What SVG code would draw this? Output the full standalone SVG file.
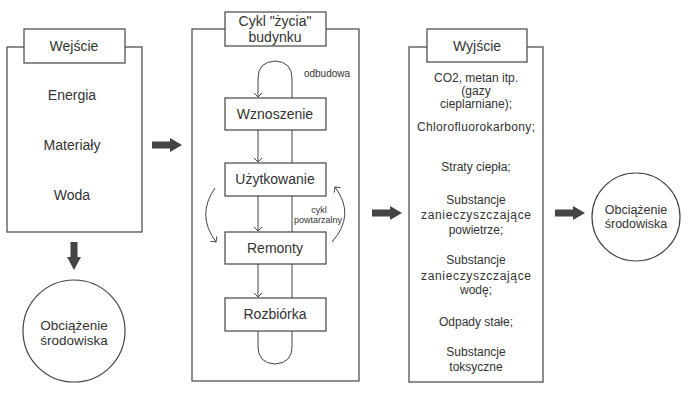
<svg xmlns="http://www.w3.org/2000/svg" width="700" height="402" viewBox="0 0 700 402">
<style>
.box{fill:#fff;stroke:#444;stroke-width:1.2}
.t{font-family:"Liberation Sans",Arial,sans-serif;fill:#333;text-anchor:middle}
.l{fill:none;stroke:#444;stroke-width:1}
.big{fill:#444}
</style>
<defs>
<marker id="ah" markerWidth="10" markerHeight="10" refX="5" refY="5" orient="auto" markerUnits="userSpaceOnUse">
<path d="M1,1 L5,5 L1,9" fill="none" stroke="#444" stroke-width="1"/>
</marker>
</defs>
<rect width="700" height="402" fill="#fff"/>

<g id="wejscie">
<rect class="box" x="7" y="47" width="135" height="185"/>
<rect class="box" x="24" y="29" width="101" height="34"/>
<text class="t" x="74" y="51" font-size="14">Wejście</text>
<text class="t" x="72" y="100" font-size="14">Energia</text>
<text class="t" x="72" y="150" font-size="14">Materiały</text>
<text class="t" x="72" y="200" font-size="14">Woda</text>
</g>

<g id="obciazenie-left">
<circle class="box" cx="74" cy="331" r="51"/>
<text class="t" x="74" y="330" font-size="13.5">Obciążenie</text>
<text class="t" x="74" y="345" font-size="13.5">środowiska</text>
</g>

<g id="cykl">
<rect class="box" x="192" y="29" width="167" height="352"/>
<rect class="box" x="225" y="12" width="101" height="34"/>
<text class="t" x="275" y="26" font-size="14">Cykl "życia"</text>
<text class="t" x="275" y="42" font-size="14">budynku</text>
</g>

<g id="connectors">
<path class="l" d="M292,98 V78 Q292,62 275,61 Q258,62 258,78 V97" marker-end="url(#ah)"/>
<path class="l" d="M292,98 V347 Q292,363 275,364 Q258,363 258,347 V331"/>
<line class="l" x1="258" y1="130" x2="258" y2="162" marker-end="url(#ah)"/>
<line class="l" x1="258" y1="196" x2="258" y2="231" marker-end="url(#ah)"/>
<line class="l" x1="258" y1="264" x2="258" y2="297" marker-end="url(#ah)"/>
<path class="l" d="M215,188 Q196,215 216,242" marker-end="url(#ah)"/>
<path class="l" d="M332,242 Q356,215 335,187" marker-end="url(#ah)"/>
<path class="big" d="M152,141.5 H170 V138 L182,145 L170,152 V148.5 H152 Z"/>
<path class="big" d="M372,209.5 H390 V206 L402,213 L390,220 V216.5 H372 Z"/>
<path class="big" d="M555,209.5 H573 V206 L585,213 L573,220 V216.5 H555 Z"/>
<path class="big" d="M70.5,242 V257 H67 L74,270 L81,257 H77.5 V242 Z"/>
</g>

<g id="wznoszenie">
<rect class="box" x="225" y="98" width="101" height="32"/>
<text class="t" x="275" y="119" font-size="14">Wznoszenie</text>
</g>
<g id="uzytkowanie">
<rect class="box" x="225" y="163" width="101" height="33"/>
<text class="t" x="275" y="184" font-size="14">Użytkowanie</text>
</g>
<g id="remonty">
<rect class="box" x="225" y="232" width="101" height="32"/>
<text class="t" x="275" y="253" font-size="14">Remonty</text>
</g>
<g id="rozbiorka">
<rect class="box" x="225" y="298" width="101" height="33"/>
<text class="t" x="275" y="319" font-size="14">Rozbiórka</text>
</g>
<text class="t" x="327" y="77" font-size="10">odbudowa</text>
<text class="t" x="319" y="213" font-size="9">cykl</text>
<text class="t" x="318" y="223" font-size="9">powtarzalny</text>

<g id="wyjscie">
<rect class="box" x="409" y="47" width="134" height="335"/>
<rect class="box" x="427" y="29" width="100" height="33"/>
<text class="t" x="477" y="51" font-size="14">Wyjście</text>
<g font-size="12">
<text class="t" x="476" y="82">CO2, metan itp.</text>
<text class="t" x="476" y="95">(gazy</text>
<text class="t" x="476" y="108">cieplarniane);</text>
<text class="t" x="476" y="131" textLength="118">Chlorofluorokarbony;</text>
<text class="t" x="476" y="171">Straty ciepła;</text>
<text class="t" x="476" y="204">Substancje</text>
<text class="t" x="476" y="219" textLength="110">zanieczyszczające</text>
<text class="t" x="476" y="234">powietrze;</text>
<text class="t" x="476" y="264">Substancje</text>
<text class="t" x="476" y="280" textLength="110">zanieczyszczające</text>
<text class="t" x="476" y="294">wodę;</text>
<text class="t" x="476" y="326">Odpady stałe;</text>
<text class="t" x="476" y="356">Substancje</text>
<text class="t" x="476" y="371">toksyczne</text>
</g>
</g>

<g id="obciazenie-right">
<circle class="box" cx="636" cy="217" r="44"/>
<text class="t" x="636" y="214" font-size="12.5">Obciążenie</text>
<text class="t" x="636" y="228" font-size="12.5">środowiska</text>
</g>
</svg>
